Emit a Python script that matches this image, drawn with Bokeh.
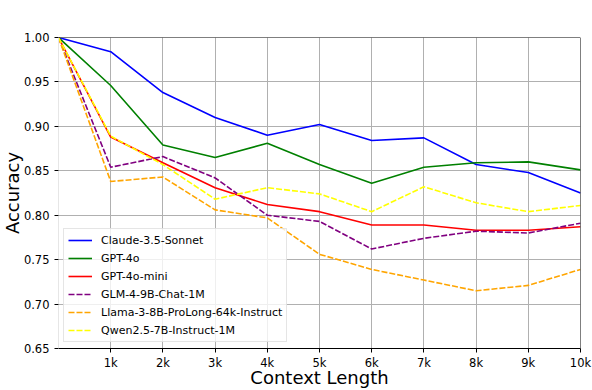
from bokeh.plotting import figure
from bokeh.models import FixedTicker, Span, PrintfTickFormatter, Title
from bokeh.embed import file_html
from bokeh.resources import INLINE

# ---- data ----
context_k = [0, 1000, 2000, 3000, 4000, 5000, 6000, 7000, 8000, 9000, 10000]
x_tick_values = [1000, 2000, 3000, 4000, 5000, 6000, 7000, 8000, 9000, 10000]
x_tick_labels = ["1k", "2k", "3k", "4k", "5k", "6k", "7k", "8k", "9k", "10k"]
y_tick_values = [0.65, 0.70, 0.75, 0.80, 0.85, 0.90, 0.95, 1.00]

claude = [1.00, 0.984, 0.938, 0.910, 0.890, 0.902, 0.884, 0.887, 0.857, 0.848, 0.825]
gpt4o = [1.00, 0.946, 0.879, 0.865, 0.881, 0.857, 0.836, 0.854, 0.859, 0.860, 0.851]
gpt4o_mini = [1.00, 0.888, 0.859, 0.831, 0.812, 0.804, 0.789, 0.789, 0.783, 0.783, 0.787]
glm = [1.00, 0.854, 0.866, 0.842, 0.800, 0.793, 0.762, 0.774, 0.782, 0.780, 0.791]
llama = [1.00, 0.838, 0.843, 0.806, 0.797, 0.756, 0.739, 0.727, 0.715, 0.721, 0.739]
qwen = [1.00, 0.889, 0.857, 0.818, 0.831, 0.824, 0.804, 0.832, 0.814, 0.804, 0.811]

series = [
    ("Claude-3.5-Sonnet", claude, "blue", "solid"),
    ("GPT-4o", gpt4o, "green", "solid"),
    ("GPT-4o-mini", gpt4o_mini, "red", "solid"),
    ("GLM-4-9B-Chat-1M", glm, "purple", "6 2"),
    ("Llama-3-8B-ProLong-64k-Instruct", llama, "orange", "6 2"),
    ("Qwen2.5-7B-Instruct-1M", qwen, "yellow", "6 2"),
]

FONT = "DejaVu Sans"

p = figure(width=592, height=390, output_backend="svg", toolbar_location=None,
           x_range=(0, 10000), y_range=(0.65, 1.0),
           min_border_left=58, min_border_right=12, min_border_top=37, min_border_bottom=42)
p.styles = {"position": "absolute", "left": "0px", "top": "0px"}

p.outline_line_color = None
p.background_fill_color = "white"

# grid
p.xgrid.ticker = FixedTicker(ticks=x_tick_values)
p.ygrid.ticker = FixedTicker(ticks=y_tick_values)
for g in (p.xgrid, p.ygrid):
    g.grid_line_color = "#b0b0b0"
    g.grid_line_width = 1

# axes
p.xaxis.ticker = FixedTicker(ticks=x_tick_values)
p.xaxis.major_label_overrides = {v: l for v, l in zip(x_tick_values, x_tick_labels)}
p.yaxis.ticker = FixedTicker(ticks=y_tick_values)
p.yaxis.formatter = PrintfTickFormatter(format="%.2f")
p.xaxis.axis_label = "Context Length"
for ax in (p.xaxis, p.yaxis):
    ax.axis_label_text_font = FONT
    ax.axis_label_text_font_size = "18px"
    ax.axis_label_text_font_style = "normal"
    ax.axis_label_text_color = "black"
    ax.major_label_text_font = FONT
    ax.major_label_text_font_size = "11.5px"
    ax.major_label_text_color = "black"
    ax.major_tick_line_color = "black"
    ax.major_tick_in = 0
    ax.major_tick_out = 4
    ax.minor_tick_line_color = None
p.xaxis.axis_line_color = "black"
p.yaxis.axis_line_color = "#e6e6e6"
p.xaxis.major_label_standoff = 3
p.yaxis.major_label_standoff = 5
p.xaxis.axis_label_standoff = -6

# y axis title in the left border
p.add_layout(Title(text="Accuracy", align="center", text_font=FONT, text_font_size="18px",
                   text_font_style="normal", text_color="black", standoff=-5, offset=0), "left")

# top and right spines
p.add_layout(Span(location=1.0, dimension="width", line_color="black", line_width=1))
p.add_layout(Span(location=10000, dimension="height", line_color="black", line_width=1))

for name, vals, color, dash in series:
    p.line(context_k, vals, line_color=color, line_width=1.6, line_dash=dash, legend_label=name)

lg = p.legend[0]
lg.location = (5, 6)
lg.label_text_font = FONT
lg.label_text_font_size = "11px"
lg.label_text_color = "black"
lg.glyph_width = 24
lg.glyph_height = 14
lg.label_height = 14
lg.label_standoff = 9
lg.spacing = 4
lg.padding = 4
lg.margin = 0
lg.border_line_color = "#cccccc"
lg.border_line_width = 1
lg.background_fill_alpha = 0.8

open("out.html", "w").write(file_html(p, INLINE))
